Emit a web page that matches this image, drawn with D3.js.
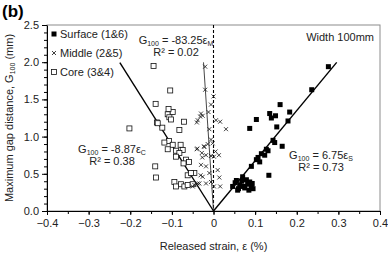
<!DOCTYPE html>
<html>
<head>
<meta charset="utf-8">
<script src="https://cdn.jsdelivr.net/npm/d3@7"></script>
<style>
  body { margin: 0; background: #fff; }
  svg { font-family: "Liberation Sans", Arial, sans-serif; }
</style>
</head>
<body>
<div id="chart"></div>
<script>
// released strain (%) and gap distance G100 (mm)
const surfaceX = [0.160, 0.135, 0.149, 0.183, 0.103, 0.139, 0.152, 0.087, 0.179, 0.143, 0.147, 0.165, 0.127, 0.131,
    0.115, 0.107, 0.103, 0.111, 0.123, 0.091, 0.133, 0.070, 0.079, 0.055, 0.087, 0.063, 0.091, 0.046, 0.276, 0.236,
    0.060, 0.075, 0.082, 0.095, 0.052, 0.068, 0.085, 0.058, 0.093, 0.072];
const surfaceY = [1.43, 1.31, 1.28, 1.33, 1.23, 1.25, 1.13, 1.11, 1.21, 0.95, 0.92, 0.87, 0.83, 0.81,
    0.77, 0.72, 0.69, 0.66, 0.75, 0.60, 0.48, 0.46, 0.42, 0.41, 0.39, 0.35, 0.34, 0.33, 1.94, 1.63,
    0.30, 0.31, 0.36, 0.30, 0.38, 0.40, 0.28, 0.28, 0.37, 0.33];

const middleX = [-0.020, -0.020, 0.000, -0.012, -0.030, -0.032, -0.038, 0.006, -0.006, -0.039, -0.023, -0.014,
    -0.002, 0.005, -0.028, -0.018, -0.006, 0.001, -0.030, -0.018, -0.010, -0.031, -0.018, -0.006, -0.038,
    -0.046, 0.001, -0.006, -0.026, -0.040, 0.016, 0.030, -0.010, -0.040, -0.022, 0.013, -0.027, 0.014,
    -0.026, -0.034, 0.016, -0.050, 0.010];
const middleY = [1.94, 1.63, 1.54, 1.33, 1.31, 1.27, 1.22, 1.22, 0.96, 0.84, 0.87, 0.90,
    0.91, 0.80, 0.78, 0.75, 0.74, 0.73, 0.62, 0.60, 0.51, 0.48, 0.37, 0.39, 0.37,
    0.35, 0.33, 1.43, 1.28, 1.19, 1.20, 1.10, 1.10, 0.83, 0.86, 0.75, 0.72, 0.45,
    0.46, 0.37, 0.33, 0.33, 0.55];

const coreX = [-0.144, -0.104, -0.139, -0.110, -0.098, -0.106, -0.102, -0.071, -0.136, -0.123, -0.202, -0.107,
    -0.118, -0.098, -0.079, -0.110, -0.090, -0.074, -0.082, -0.090, -0.066, -0.059, -0.072, -0.046, -0.062,
    -0.138, -0.094, -0.078, -0.090, -0.070, -0.062, -0.050, -0.134, -0.108, -0.140, -0.054, -0.082];
const coreY = [1.95, 1.62, 1.44, 1.30, 1.33, 1.26, 1.23, 1.20, 1.19, 1.12, 1.11, 0.94,
    0.92, 0.89, 0.89, 0.83, 0.81, 0.82, 0.78, 0.73, 0.69, 0.66, 0.64, 0.51, 0.48,
    0.45, 0.39, 0.36, 0.33, 0.33, 0.35, 0.36, 1.18, 1.37, 0.60, 0.51, 1.09];

// fitted lines G = k * e, drawn from 0 up to the given strain
const fitSlopes = [6.75, -83.25, -8.87];
const fitEnds = [0.296, -0.024, -0.225];

const xTicks = [-0.4, -0.3, -0.2, -0.1, 0, 0.1, 0.2, 0.3, 0.4];
const yTicks = [0, 0.5, 1.0, 1.5, 2.0, 2.5];

const W = 388, H = 254;
const margins = {top: 25, right: 8, bottom: 43, left: 47};
const width = W - margins.left - margins.right;
const height = H - margins.top - margins.bottom;

const svg = d3.select("#chart").append("svg").attr("width", W).attr("height", H);
const g = svg.append("g").attr("transform", `translate(${margins.left},${margins.top})`);

const x = d3.scaleLinear().domain([-0.4, 0.4]).range([0, width]);
const y = d3.scaleLinear().domain([0, 2.5]).range([height, 0]);

// plot frame
g.append("rect").attr("width", width).attr("height", height)
    .attr("fill", "none").attr("stroke", "#8c8c8c").attr("stroke-width", 1);

// axes
const xMinor = d3.range(-0.4, 0.41, 0.05);
g.append("g").attr("transform", `translate(0,${height})`)
    .call(d3.axisBottom(x).tickValues(xMinor).tickSize(3).tickFormat(""))
    .call(a => a.select(".domain").remove())
    .call(a => a.selectAll("line").attr("stroke", "#000"));
g.append("g").attr("transform", `translate(0,${height})`)
    .call(d3.axisBottom(x).tickValues(xTicks).tickSize(4).tickSizeOuter(0)
        .tickFormat(d => d === 0 ? "0" : d3.format(".1f")(d)))
    .call(a => a.selectAll("text").attr("font-size", 11).attr("fill", "#222").attr("dy", "0.85em"));

const yMinor = d3.range(0, 2.51, 0.1);
g.append("g")
    .call(d3.axisLeft(y).tickValues(yMinor).tickSize(3).tickFormat(""))
    .call(a => a.select(".domain").remove());
g.append("g")
    .call(d3.axisLeft(y).tickValues(yTicks).tickSize(5).tickSizeOuter(0).tickFormat(d3.format(".1f")))
    .call(a => a.selectAll("text").attr("font-size", 11).attr("fill", "#222").attr("x", -8));

// dashed zero line
g.append("line").attr("x1", x(0)).attr("x2", x(0)).attr("y1", 0).attr("y2", height)
    .attr("stroke", "#000").attr("stroke-width", 1.1).attr("stroke-dasharray", "3,2");

// fit lines
fitSlopes.forEach((k, i) => {
    g.append("line")
        .attr("x1", x(0)).attr("y1", y(0))
        .attr("x2", x(fitEnds[i])).attr("y2", y(k * fitEnds[i]))
        .attr("stroke", i === 1 ? "#333" : "#000")
        .attr("stroke-width", i === 1 ? 0.9 : 1.4);
});

// markers
const sq = 5;
g.selectAll(".core").data(d3.zip(coreX, coreY)).enter().append("rect")
    .attr("x", d => x(d[0]) - sq / 2).attr("y", d => y(d[1]) - sq / 2)
    .attr("width", sq).attr("height", sq)
    .attr("fill", "#fff").attr("stroke", "#111").attr("stroke-width", 0.8);

const cross = (sel, cx, cy, r) => sel.append("path")
    .attr("d", `M${cx - r},${cy - r}L${cx + r},${cy + r}M${cx - r},${cy + r}L${cx + r},${cy - r}`)
    .attr("stroke", "#111").attr("stroke-width", 0.8).attr("fill", "none");
d3.zip(middleX, middleY).forEach(d => cross(g, x(d[0]), y(d[1]), 2));

g.selectAll(".surf").data(d3.zip(surfaceX, surfaceY)).enter().append("rect")
    .attr("x", d => x(d[0]) - sq / 2).attr("y", d => y(d[1]) - sq / 2)
    .attr("width", sq).attr("height", sq).attr("fill", "#000");

// legend
const legendNames = ["Surface (1&6)", "Middle (2&5)", "Core (3&4)"];
legendNames.forEach((name, i) => {
    const ly = 9 + i * 19;
    if (i === 0) g.append("rect").attr("x", 4.5).attr("y", ly - 2.5).attr("width", 5).attr("height", 5).attr("fill", "#000");
    if (i === 1) cross(g, 7, ly, 2);
    if (i === 2) g.append("rect").attr("x", 4.5).attr("y", ly - 2.5).attr("width", 5).attr("height", 5)
        .attr("fill", "#fff").attr("stroke", "#111").attr("stroke-width", 0.8);
    g.append("text").attr("x", 13).attr("y", ly + 4).attr("font-size", 11).attr("fill", "#222").text(name);
});

// equation labels
function equation(cx, cy, coef, sub, r2) {
    const t = g.append("text").attr("x", cx).attr("y", cy).attr("text-anchor", "middle")
        .attr("font-size", 11).attr("fill", "#222");
    t.append("tspan").text("G");
    t.append("tspan").attr("font-size", 7).attr("dy", 2).text("100");
    t.append("tspan").attr("dy", -2).text(" = " + coef + "ε");
    t.append("tspan").attr("font-size", 7).attr("dy", 2).text(sub);
    g.append("text").attr("x", cx).attr("y", cy + 12).attr("text-anchor", "middle")
        .attr("font-size", 11).attr("fill", "#222").text("R² = " + r2);
}
equation(129, 19, "-83.25", "M", "0.02");
equation(65, 128, "-8.87", "C", "0.38");
equation(274, 134, "6.75", "S", "0.73");

g.append("text").attr("x", width - 6).attr("y", 16).attr("text-anchor", "end")
    .attr("font-size", 11).attr("fill", "#222").text("Width 100mm");

// axis titles
svg.append("text").attr("x", margins.left + x(0)).attr("y", 250).attr("text-anchor", "middle")
    .attr("font-size", 11).attr("fill", "#222").text("Released strain, ε (%)");

const yl = svg.append("text").attr("transform", `translate(13,${margins.top + height / 2}) rotate(-90)`)
    .attr("text-anchor", "middle").attr("font-size", 11).attr("fill", "#222");
yl.append("tspan").text("Maximum gap distance, G");
yl.append("tspan").attr("font-size", 7).attr("dy", 2).text("100");
yl.append("tspan").attr("dy", -2).text(" (mm)");

svg.append("text").attr("x", 2).attr("y", 17).attr("font-size", 17).attr("font-weight", "bold")
    .attr("fill", "#000").text("(b)");
</script>
</body>
</html>
